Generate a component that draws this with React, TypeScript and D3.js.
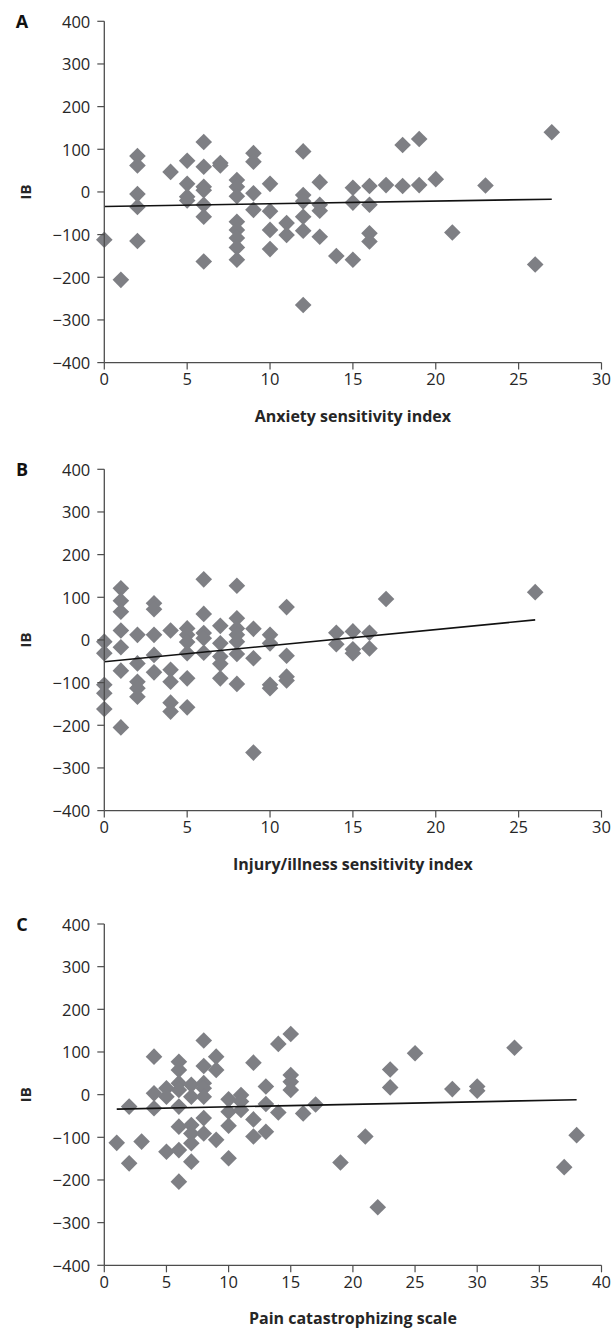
import React from "react";
import * as d3 from "d3";

type Pt = [number, number];

// Panel A: Anxiety sensitivity index vs IB
const anxietyPoints: Pt[] = [
  [0, -112], [1, -206], [2, 84], [2, 62], [2, -5], [2, -35], [2, -115], [4, 47],
  [5, 73], [5, 19], [5, -11], [5, -20], [6, 117], [6, 59], [6, 12], [6, 4], [6, -30],
  [6, -58], [6, -163], [7, 68], [7, 62], [8, 28], [8, 12], [8, -10], [8, -70], [8, -89],
  [8, -108], [8, -130], [8, -159], [9, 91], [9, 71], [9, -3], [9, -42], [10, 19],
  [10, -45], [10, -89], [10, -134], [11, -73], [11, -101], [12, 95], [12, -7], [12, -22],
  [12, -58], [12, -91], [12, -265], [13, 23], [13, -30], [13, -44], [13, -105], [14, -150],
  [15, 10], [15, -25], [15, -159], [16, 14], [16, -30], [16, -97], [16, -116], [17, 16],
  [18, 110], [18, 14], [19, 124], [19, 16], [20, 30], [21, -95], [23, 15], [26, -170],
  [27, 140],
];
const anxietyTrend: Pt[] = [[0, -34], [27, -17]];

// Panel B: Injury/illness sensitivity index vs IB
const injuryPoints: Pt[] = [
  [0, -4], [0, -31], [0, -105], [0, -125], [0, -162], [1, 121], [1, 92], [1, 66], [1, 22],
  [1, -17], [1, -72], [1, -205], [2, 12], [2, -55], [2, -98], [2, -113], [2, -133],
  [3, 86], [3, 72], [3, 12], [3, -35], [3, -76], [4, 22], [4, -70], [4, -98], [4, -147],
  [4, -168], [5, 27], [5, 12], [5, -5], [5, -31], [5, -90], [5, -158], [6, 142], [6, 61],
  [6, 16], [6, 4], [6, -30], [7, 33], [7, -8], [7, -39], [7, -56], [7, -90], [8, 127],
  [8, 51], [8, 27], [8, 12], [8, -4], [8, -33], [8, -103], [9, 26], [9, -43], [9, -264],
  [10, 12], [10, -8], [10, -105], [10, -113], [11, 77], [11, -37], [11, -86], [11, -95],
  [14, 17], [14, -10], [15, 20], [15, -22], [15, -31], [16, 17], [16, -20], [17, 96],
  [26, 112],
];
const injuryTrend: Pt[] = [[0, -51], [26, 47]];

// Panel C: Pain catastrophizing scale vs IB
const painPoints: Pt[] = [
  [1, -113], [2, -28], [2, -161], [3, -110], [4, 89], [4, 3], [4, -32], [5, 15], [5, -5],
  [5, -134], [6, 77], [6, 58], [6, 27], [6, 11], [6, -28], [6, -75], [6, -130], [6, -204],
  [7, 23], [7, -5], [7, -71], [7, -91], [7, -114], [7, -157], [8, 127], [8, 67], [8, 27],
  [8, 15], [8, -5], [8, -55], [8, -91], [9, 89], [9, 58], [9, -106], [10, -11], [10, -40],
  [10, -73], [10, -149], [11, -1], [11, -16], [11, -36], [12, 75], [12, -58], [12, -98],
  [13, 19], [13, -22], [13, -87], [14, 119], [14, -42], [15, 142], [15, 46], [15, 30],
  [15, 11], [16, -44], [17, -23], [19, -159], [21, -98], [22, -264], [23, 59], [23, 17],
  [25, 97], [28, 13], [30, 19], [30, 9], [33, 110], [37, -170], [38, -95],
];
const painTrend: Pt[] = [[1, -34], [38, -12]];

const yTicks = [-400, -300, -200, -100, 0, 100, 200, 300, 400];
const xTicks30 = [0, 5, 10, 15, 20, 25, 30];
const xTicks40 = [0, 5, 10, 15, 20, 25, 30, 35, 40];

const panelLetters = ["A", "B", "C"];
const xTitles = [
  "Anxiety sensitivity index",
  "Injury/illness sensitivity index",
  "Pain catastrophizing scale",
];
const yTitle = "IB";

const W = 614;
const H = 1329;
const X0 = 104.3;
const X1 = 601.5;
const panelTops = [21.3, 469.3, 924];
const PLOT_H = 341.3;

const FONT = "'Open Sans', 'Liberation Sans', sans-serif";
const MARK = "#7e7f84";
const AXIS = "#4d4d4d";
const TXT = "#262626";

interface PanelProps {
  top: number;
  letter: string;
  xTitle: string;
  points: Pt[];
  trend: Pt[];
  xMax: number;
  xTicks: number[];
}

function Panel({ top, letter, xTitle, points, trend, xMax, xTicks }: PanelProps) {
  const x = d3.scaleLinear().domain([0, xMax]).range([X0, X1]);
  const y = d3.scaleLinear().domain([-400, 400]).range([top + PLOT_H, top]);
  const diamond = d3.symbol().type(d3.symbolSquare).size(138)();
  const line = d3
    .line<Pt>()
    .x((d) => x(d[0]))
    .y((d) => y(d[1]));
  const yb = y(-400);
  return (
    <g>
      {points.map((p, i) => (
        <path
          key={i}
          d={diamond || ""}
          fill={MARK}
          transform={`translate(${x(p[0])},${y(p[1])}) rotate(45)`}
        />
      ))}
      <path d={line(trend) || ""} stroke="#111" strokeWidth={1.6} fill="none" />
      {/* y axis */}
      <line x1={X0} x2={X0} y1={y(400)} y2={yb} stroke={AXIS} strokeWidth={1.3} />
      {yTicks.map((t) => (
        <g key={t}>
          <line x1={X0 - 7} x2={X0} y1={y(t)} y2={y(t)} stroke={AXIS} strokeWidth={1.2} />
          <text
            x={X0 - 14}
            y={y(t)}
            textAnchor="end"
            dominantBaseline="central"
            fontFamily={FONT}
            fontSize={16.5}
            fill={TXT}
          >
            {t < 0 ? `\u2212${Math.abs(t)}` : `${t}`}
          </text>
        </g>
      ))}
      {/* x axis */}
      <line x1={X0} x2={X1} y1={yb} y2={yb} stroke={AXIS} strokeWidth={1.3} />
      {xTicks.map((t) => (
        <g key={t}>
          <line x1={x(t)} x2={x(t)} y1={yb} y2={yb + 7} stroke={AXIS} strokeWidth={1.2} />
          <text
            x={x(t)}
            y={yb + 16}
            textAnchor="middle"
            dominantBaseline="central"
            fontFamily={FONT}
            fontSize={16.5}
            fill={TXT}
          >
            {t}
          </text>
        </g>
      ))}
      <text
        x={(X0 + X1) / 2}
        y={yb + 53}
        textAnchor="middle"
        dominantBaseline="central"
        fontFamily={FONT}
        fontWeight="bold"
        fontSize={16}
        fill={TXT}
      >
        {xTitle}
      </text>
      <text
        x={25}
        y={y(0)}
        textAnchor="middle"
        dominantBaseline="central"
        fontFamily={FONT}
        fontWeight="bold"
        fontSize={15}
        fill={TXT}
        transform={`rotate(-90, 25, ${y(0)})`}
      >
        {yTitle}
      </text>
      <text
        x={22}
        y={top}
        textAnchor="middle"
        dominantBaseline="central"
        fontFamily={FONT}
        fontWeight="bold"
        fontSize={18}
        fill="#111"
      >
        {letter}
      </text>
    </g>
  );
}

export default function App() {
  const panels = [
    { points: anxietyPoints, trend: anxietyTrend, xMax: 30, xTicks: xTicks30 },
    { points: injuryPoints, trend: injuryTrend, xMax: 30, xTicks: xTicks30 },
    { points: painPoints, trend: painTrend, xMax: 40, xTicks: xTicks40 },
  ];
  return (
    <svg
      width={W}
      height={H}
      style={{ position: "absolute", left: 0, top: 0, background: "#fff" }}
    >
      <rect width={W} height={H} fill="#fff" />
      {panels.map((p, i) => (
        <Panel
          key={i}
          top={panelTops[i]}
          letter={panelLetters[i]}
          xTitle={xTitles[i]}
          points={p.points}
          trend={p.trend}
          xMax={p.xMax}
          xTicks={p.xTicks}
        />
      ))}
    </svg>
  );
}
